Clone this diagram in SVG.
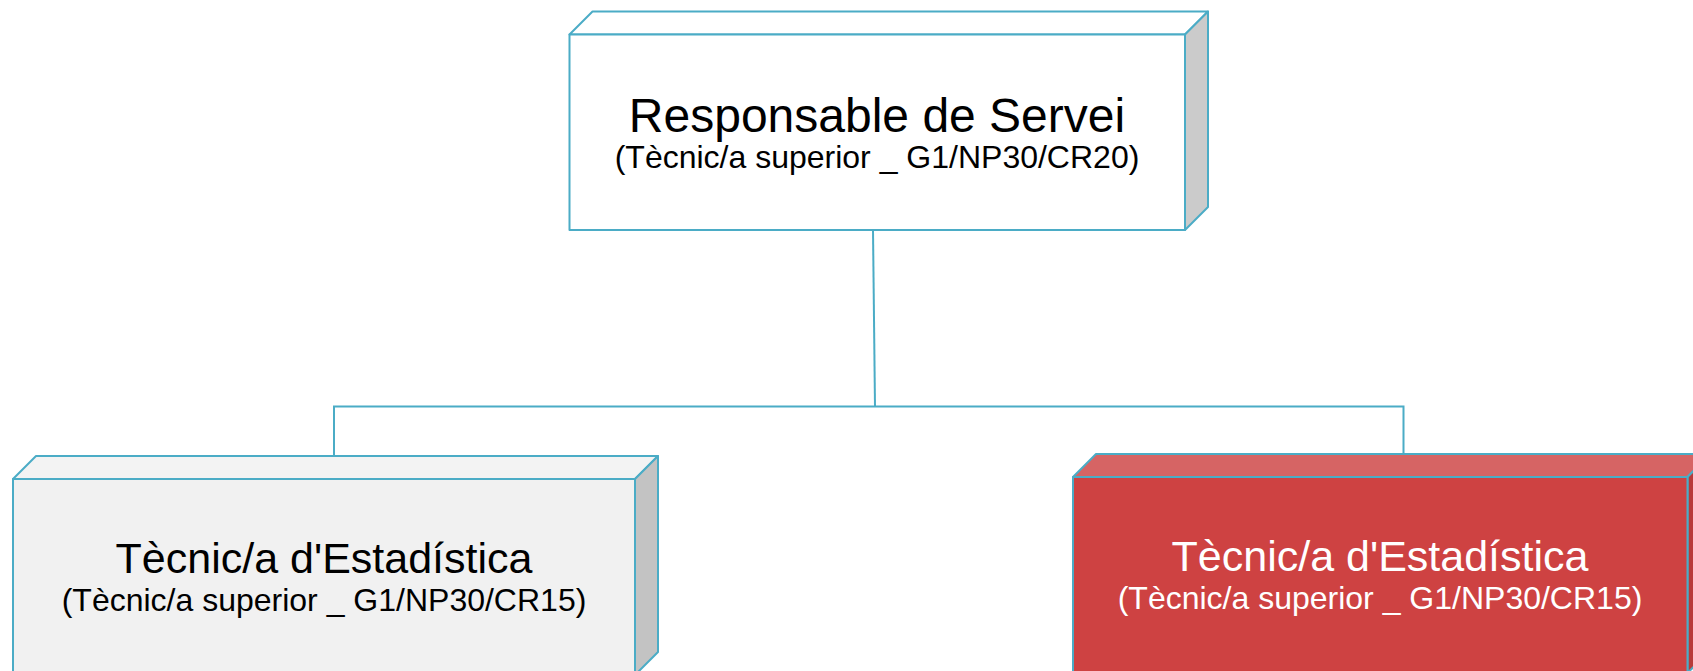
<svg xmlns="http://www.w3.org/2000/svg" width="1693" height="671" viewBox="0 0 1693 671">
<style>
.edge{stroke:#4BACC6;stroke-width:2;fill:none}
.box{stroke:#4BACC6;stroke-width:2;stroke-linejoin:round}
.t1{font-family:"Liberation Sans",Arial,sans-serif;font-size:48px;text-anchor:middle;fill:#000000}
.t3{font-family:"Liberation Sans",Arial,sans-serif;font-size:43px;text-anchor:middle;fill:#000000}
.t2{font-family:"Liberation Sans",Arial,sans-serif;font-size:32px;text-anchor:middle;fill:#000000}
.white{fill:#FFFFFF}
</style>
<rect width="1693" height="671" fill="#FFFFFF"/>
<g id="connectors">
<path class="edge" d="M873,230 L875,406.5"/>
<path class="edge" d="M334,455.5 L334,406.5 L1403.5,406.5 L1403.5,453.5"/>
</g>
<g id="node-responsable">
<polygon class="box" points="569.5,34.5 592.5,11.5 1208,11.5 1185,34.5" fill="#FFFFFF"/>
<polygon class="box" points="1185,34.5 1208,11.5 1208,207 1185,230" fill="#CBCBCB"/>
<rect class="box" x="569.5" y="34.5" width="615.5" height="195.5" fill="#FFFFFF"/>
<text class="t1" x="877" y="131.5">Responsable de Servei</text>
<text class="t2" x="877" y="168">(Tècnic/a superior _ G1/NP30/CR20)</text>
</g>
<g id="node-tecnic-1">
<polygon class="box" points="13,479 36,456 658,456 635,479" fill="#F3F3F3"/>
<polygon class="box" points="635,479 658,456 658,652 635,675" fill="#C3C3C3"/>
<rect class="box" x="13" y="479" width="622" height="196" fill="#F1F1F1"/>
<text class="t3" x="324" y="573">Tècnic/a d'Estadística</text>
<text class="t2" x="324" y="611">(Tècnic/a superior _ G1/NP30/CR15)</text>
</g>
<g id="node-tecnic-2">
<polygon class="box" points="1073,477 1096,454 1710.5,454 1687.5,477" fill="#D66464"/>
<polygon class="box" points="1687.5,477 1710.5,454 1710.5,650 1687.5,673" fill="#B83A3A"/>
<rect class="box" x="1073" y="477" width="614.5" height="196" fill="#CE4242"/>
<text class="t3 white" x="1380" y="571">Tècnic/a d'Estadística</text>
<text class="t2 white" x="1380" y="609">(Tècnic/a superior _ G1/NP30/CR15)</text>
</g>
</svg>
